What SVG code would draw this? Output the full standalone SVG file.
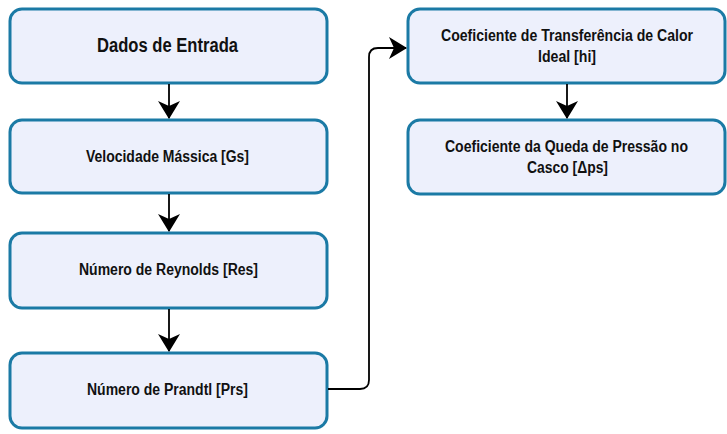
<svg xmlns="http://www.w3.org/2000/svg" width="727" height="434" viewBox="0 0 727 434">
  <style>
    .box { fill: #edf0fc; stroke: #1b7aa5; stroke-width: 3; }
    .lbl { font-family: "Liberation Sans", Arial, sans-serif; font-weight: bold; fill: #111; text-anchor: middle; font-size: 16px; }
    .big { font-size: 20px; }
    .edge { fill: none; stroke: #000; stroke-width: 1.8; }
  </style>
  <defs>
    <marker id="head" viewBox="0 0 18 22" refX="17" refY="11" markerWidth="18" markerHeight="22" markerUnits="userSpaceOnUse" orient="auto">
      <path d="M0,0 L18,11 L0,22 L5,11 Z" fill="#000"/>
    </marker>
  </defs>
  <rect width="727" height="434" fill="#fff"/>

  <g id="dados-entrada">
    <rect class="box" x="10" y="9" width="317" height="74" rx="12"/>
    <text class="lbl big" x="167.5" y="52" textLength="141" lengthAdjust="spacingAndGlyphs">Dados de Entrada</text>
  </g>
  <g id="velocidade-massica">
    <rect class="box" x="10" y="120" width="317" height="73" rx="12"/>
    <text class="lbl" x="167.5" y="162" textLength="163" lengthAdjust="spacingAndGlyphs">Velocidade Mássica [Gs]</text>
  </g>
  <g id="numero-reynolds">
    <rect class="box" x="10" y="233" width="317" height="75" rx="12"/>
    <text class="lbl" x="168.5" y="275" textLength="179" lengthAdjust="spacingAndGlyphs">Número de Reynolds [Res]</text>
  </g>
  <g id="numero-prandtl">
    <rect class="box" x="10" y="353" width="317" height="75" rx="12"/>
    <text class="lbl" x="167.5" y="395" textLength="161" lengthAdjust="spacingAndGlyphs">Número de Prandtl [Prs]</text>
  </g>
  <g id="coef-transferencia">
    <rect class="box" x="408" y="9" width="317" height="74" rx="12"/>
    <text class="lbl" x="567" y="41" textLength="252" lengthAdjust="spacingAndGlyphs">Coeficiente de Transferência de Calor</text>
    <text class="lbl" x="567" y="62" textLength="58" lengthAdjust="spacingAndGlyphs">Ideal [hi]</text>
  </g>
  <g id="coef-queda-pressao">
    <rect class="box" x="408" y="120" width="317" height="74" rx="12"/>
    <text class="lbl" x="566.5" y="152" textLength="243" lengthAdjust="spacingAndGlyphs">Coeficiente da Queda de Pressão no</text>
    <text class="lbl" x="567.5" y="173" textLength="81" lengthAdjust="spacingAndGlyphs">Casco [Δps]</text>
  </g>

  <g id="connectors">
    <path class="edge" d="M169,84 V118" marker-end="url(#head)"/>
    <path class="edge" d="M169,194 V231" marker-end="url(#head)"/>
    <path class="edge" d="M169,309 V351" marker-end="url(#head)"/>
    <path class="edge" d="M567,84 V118" marker-end="url(#head)"/>
    <path class="edge" d="M328,389 H360 Q369,389 369,380 V57 Q369,48 378,48 H406" marker-end="url(#head)"/>
  </g>
</svg>
